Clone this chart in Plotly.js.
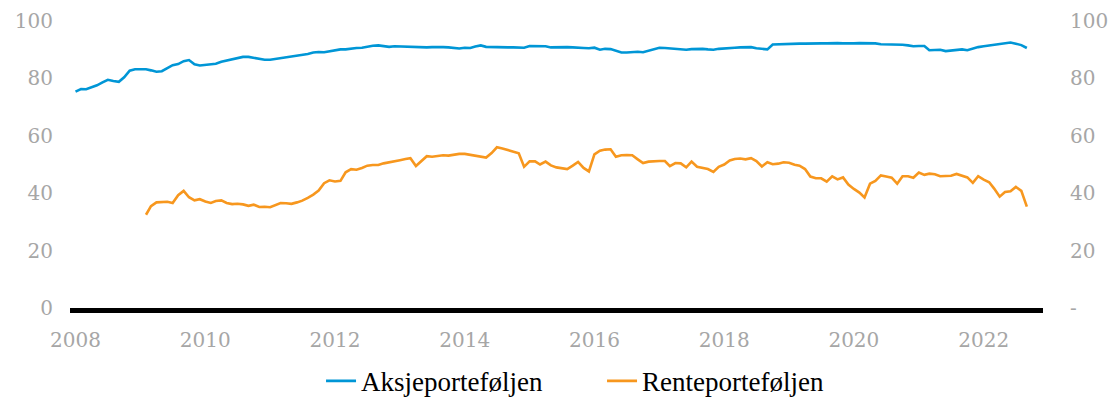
<!DOCTYPE html>
<html><head><meta charset="utf-8">
<script src="https://cdn.plot.ly/plotly-3.0.1.min.js"></script>
<style>html,body{margin:0;padding:0;background:#fff}#chart{width:1114px;height:400px}</style>
</head><body><div id="chart"></div>
<script>
const months = [
"2008-01","2008-02","2008-03","2008-04","2008-05","2008-06","2008-07","2008-08","2008-09","2008-10","2008-11","2008-12",
"2009-01","2009-02","2009-03","2009-04","2009-05","2009-06","2009-07","2009-08","2009-09","2009-10","2009-11","2009-12",
"2010-01","2010-02","2010-03","2010-04","2010-05","2010-06","2010-07","2010-08","2010-09","2010-10","2010-11","2010-12",
"2011-01","2011-02","2011-03","2011-04","2011-05","2011-06","2011-07","2011-08","2011-09","2011-10","2011-11","2011-12",
"2012-01","2012-02","2012-03","2012-04","2012-05","2012-06","2012-07","2012-08","2012-09","2012-10","2012-11","2012-12",
"2013-01","2013-02","2013-03","2013-04","2013-05","2013-06","2013-07","2013-08","2013-09","2013-10","2013-11","2013-12",
"2014-01","2014-02","2014-03","2014-04","2014-05","2014-06","2014-07","2014-08","2014-09","2014-10","2014-11","2014-12",
"2015-01","2015-02","2015-03","2015-04","2015-05","2015-06","2015-07","2015-08","2015-09","2015-10","2015-11","2015-12",
"2016-01","2016-02","2016-03","2016-04","2016-05","2016-06","2016-07","2016-08","2016-09","2016-10","2016-11","2016-12",
"2017-01","2017-02","2017-03","2017-04","2017-05","2017-06","2017-07","2017-08","2017-09","2017-10","2017-11","2017-12",
"2018-01","2018-02","2018-03","2018-04","2018-05","2018-06","2018-07","2018-08","2018-09","2018-10","2018-11","2018-12",
"2019-01","2019-02","2019-03","2019-04","2019-05","2019-06","2019-07","2019-08","2019-09","2019-10","2019-11","2019-12",
"2020-01","2020-02","2020-03","2020-04","2020-05","2020-06","2020-07","2020-08","2020-09","2020-10","2020-11","2020-12",
"2021-01","2021-02","2021-03","2021-04","2021-05","2021-06","2021-07","2021-08","2021-09","2021-10","2021-11","2021-12",
"2022-01","2022-02","2022-03","2022-04","2022-05","2022-06","2022-07","2022-08","2022-09"
];

const aksjeporteføljen = [
75.4,76.3,76.2,76.8,77.6,78.6,79.5,79.1,78.8,80.4,82.7,83.2,
83.1,83.2,82.8,82.3,82.5,83.5,84.6,85.0,86.0,86.4,84.9,84.5,
84.7,84.8,85.1,85.8,86.2,86.7,87.2,87.5,87.5,87.2,86.8,86.5,
86.5,86.8,87.1,87.2,87.6,88.0,88.2,88.5,89.0,89.2,89.1,89.4,
89.9,90.1,90.1,90.4,90.6,90.7,91.1,91.4,91.5,91.3,91.0,91.2,
91.1,91.0,91.0,91.0,90.9,90.8,90.9,91.0,90.9,90.8,90.6,90.4,
90.7,90.6,91.1,91.5,91.0,90.9,90.9,90.9,90.8,90.8,90.8,90.7,
91.3,91.2,91.1,91.2,90.8,90.9,91.0,90.9,90.8,90.6,90.6,90.5,
90.7,90.0,90.3,90.2,89.5,89.0,89.0,89.2,89.3,89.1,89.7,90.3,
90.7,90.6,90.5,90.3,90.2,90.0,90.2,90.3,90.3,90.1,90.0,90.3,
90.5,90.6,90.7,90.8,90.8,90.9,90.5,90.2,90.1,91.8,91.9,91.9,
92.0,92.0,92.1,92.1,92.2,92.2,92.2,92.2,92.3,92.3,92.2,92.1,
92.2,92.3,92.3,92.3,92.2,91.9,91.9,91.9,91.8,91.7,91.5,91.2,
91.3,91.3,89.8,90.0,90.0,89.5,89.7,89.8,90.1,89.8,90.4,90.9,
91.2,91.5,91.8,92.1,92.3,92.5,92.1,91.6,90.6
];

const renteFirstMonth = "2009-02";
const renteporteføljen = [
32.5,35.5,36.8,37.0,37.0,36.6,39.3,40.8,38.6,37.5,37.9,
37.1,36.6,37.3,37.5,36.6,36.2,36.3,36.1,35.6,36.0,35.2,35.3,
35.1,36.0,36.6,36.5,36.3,36.8,37.4,38.4,39.5,40.9,43.5,44.5,
44.1,44.3,47.3,48.4,48.2,48.8,49.6,49.8,49.8,50.4,50.7,51.0,
51.5,51.9,52.2,49.5,51.2,52.9,52.7,52.9,53.2,53.1,53.5,53.7,
53.7,53.4,52.9,52.7,52.4,54.0,56.0,55.6,55.0,54.6,53.9,49.2,
51.1,51.1,50.0,51.0,49.7,49.0,48.7,48.4,49.6,50.9,48.8,47.6,
53.5,54.8,55.2,55.3,52.7,53.2,53.3,53.2,51.8,50.5,51.0,51.2,
51.2,51.2,49.4,50.5,50.4,49.0,51.0,49.2,48.8,48.4,47.4,49.2,
50.0,51.4,51.9,52.1,51.8,52.2,51.2,49.3,50.8,50.1,50.3,50.8,
50.6,49.9,49.6,48.4,45.8,45.2,45.2,44.0,45.9,44.8,45.5,43.0,
41.5,40.2,38.5,43.3,44.3,46.2,45.8,45.4,43.3,45.9,45.9,45.4,
47.2,46.4,46.8,46.6,45.9,46.0,46.1,46.7,46.2,45.5,43.6,45.9,
44.7,43.8,41.6,38.8,40.4,40.7,42.2,40.8,35.3
];

const seriesNames = ["Aksjeporteføljen", "Renteporteføljen"];
const xTickYears = ["2008","2010","2012","2014","2016","2018","2020","2022"];
const yTickValues = [0, 20, 40, 60, 80, 100];
const yTickTextLeft = ["0", "20", "40", "60", "80", "100"];
const yTickTextRight = ["-", "20", "40", "60", "80", "100"];

const renteMonths = months.slice(months.indexOf(renteFirstMonth));

const tickFont = {family: "DejaVu Serif", size: 20, color: "#a6a6a6"};

const traces = [
  {x: months, y: aksjeporteføljen, name: seriesNames[0], type: "scatter", mode: "lines",
   line: {color: "#0096d6", width: 2.6}, yaxis: "y"},
  {x: renteMonths, y: renteporteføljen, name: seriesNames[1], type: "scatter", mode: "lines",
   line: {color: "#f7971e", width: 2.6}, yaxis: "y2"}
];

const layout = {
  width: 1114, height: 400,
  margin: {l: 70, r: 71, t: 21, b: 92, autoexpand: false},
  paper_bgcolor: "#fff", plot_bgcolor: "#fff",
  showlegend: true,
  legend: {orientation: "h", x: 0.258, xanchor: "left", y: -0.17, yanchor: "top",
    font: {family: "Liberation Serif", size: 27, color: "#000"}, entrywidth: 236, traceorder: "normal"},
  xaxis: {type: "date", range: ["2007-12-01", "2022-12-01"],
    tickvals: xTickYears.map(y => y + "-01-01"), ticktext: xTickYears,
    showgrid: false, zeroline: false, showline: true, linecolor: "#000", linewidth: 5,
    ticks: "", tickfont: tickFont, ticklabelstandoff: 10},
  yaxis: {range: [0, 100], tickvals: yTickValues, ticktext: yTickTextLeft,
    showgrid: false, zeroline: false, showline: false, ticks: "", tickfont: tickFont, ticklabelstandoff: 16},
  yaxis2: {range: [0, 100], overlaying: "y", side: "right", tickvals: yTickValues, ticktext: yTickTextRight,
    showgrid: false, zeroline: false, showline: false, ticks: "", tickfont: tickFont, ticklabelstandoff: 26}
};

Plotly.newPlot("chart", traces, layout, {displayModeBar: false, staticPlot: true});
</script>
</body></html>
